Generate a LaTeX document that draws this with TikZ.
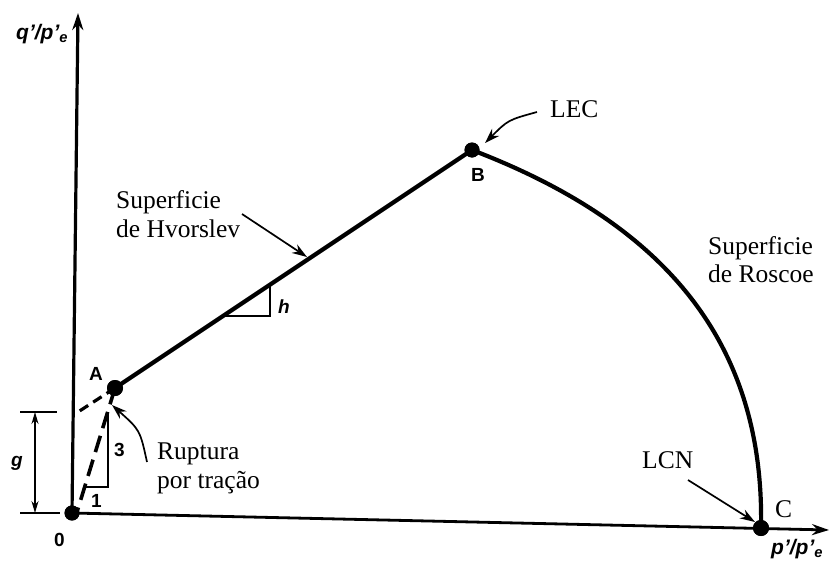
\documentclass[tikz,border=0pt]{standalone}
\usepackage{fontspec}
\setmainfont{Liberation Serif}
\setsansfont{Liberation Sans}
\usetikzlibrary{arrows.meta}

\begin{document}
\begin{tikzpicture}[x=1pt,y=-1pt,
  txtlabel/.style={font=\fontsize{25.5}{29}\selectfont,inner sep=0pt,anchor=base west},
  ptlabel/.style={font=\sffamily\bfseries\fontsize{19}{21}\selectfont,inner sep=0pt,anchor=base west},
  axlabel/.style={font=\sffamily\bfseries\itshape\fontsize{21}{24}\selectfont,inner sep=0pt,anchor=base west},
  dotmark/.style={circle,fill,inner sep=0pt,minimum size=15pt},
  heavy/.style={line width=4.2pt},
  callout/.style={-{Stealth[length=15pt,width=10pt]},line width=1.7pt}]
  \useasboundingbox (0,0) rectangle (829,570);
  % points of the curve
  \node[dotmark] (O) at (72,513) {};
  \node[dotmark,minimum size=16pt] (A) at (115,388) {};
  \node[dotmark] (B) at (472,150) {};
  \node[dotmark,minimum size=16pt] (C) at (761,528) {};
  \coordinate (ytip) at (78,13);
  \coordinate (xtip) at (829,530);
  \coordinate (g0) at (78,412);
  \coordinate (t0) at (77,512);
  % axes
  \draw[line width=3.2pt,-{Stealth[length=17pt,width=11pt]}] (O.center) -- (ytip);
  \draw[line width=2.8pt,-{Stealth[length=17pt,width=11pt]}] (O.center) -- (xtip);
  % tension cut-off
  \draw[line width=3.2pt,dash pattern=on 10pt off 6pt] (A.center) -- (g0);
  \draw[line width=3.6pt,dash pattern=on 17pt off 8pt] (A.center) -- (t0);
  \draw[line width=1.6pt] (85,487) -- (108,487) -- (108,413);
  % Hvorslev and Roscoe
  \draw[heavy] (A.center) -- (B.center);
  \draw[heavy] (B.center) .. controls (650,218) and (765,330) .. (C.center);
  \draw[line width=1.6pt] (225,316) -- (270,316) -- (270,285);
  \node[dotmark] at (O) {};
  \node[dotmark,minimum size=16pt] at (A) {};
  \node[dotmark] at (B) {};
  \node[dotmark,minimum size=16pt] at (C) {};
  % g
  \draw[line width=1.6pt] (20,412) -- (57,412);
  \draw[line width=1.6pt] (20,513) -- (60,513);
  \draw[line width=1.6pt,{Stealth[length=12pt,width=7pt]}-{Stealth[length=12pt,width=7pt]}] (35,412) -- (35,513);
  % labels
  \node[axlabel] (ylab) at (16,39) {q'/p'\textsubscript{e}};
  \node[axlabel] (xlab) at (771,554) {p'/p'\textsubscript{e}};
  \node[ptlabel] (lA) at (89,380) {A};
  \node[ptlabel] (lB) at (471,181) {B};
  \node[ptlabel] (l0) at (54,546) {0};
  \node[ptlabel] (l3) at (114,456) {3};
  \node[ptlabel] (l1) at (91,507) {1};
  \node[ptlabel,font=\sffamily\bfseries\itshape\fontsize{19}{21}\selectfont] (lh) at (278,313) {h};
  \node[ptlabel,font=\sffamily\bfseries\itshape\fontsize{19}{21}\selectfont] (lg) at (11,466) {g};
  \node[txtlabel] (hv1) at (116,208) {Superficie};
  \node[txtlabel] (hv2) at (116,237) {de Hvorslev};
  \node[txtlabel] (rs1) at (708,254) {Superficie};
  \node[txtlabel] (rs2) at (708,282) {de Roscoe};
  \node[txtlabel] (rp1) at (157,459) {Ruptura};
  \node[txtlabel] (rp2) at (157,488) {por tração};
  \node[txtlabel] (lec) at (550,117) {LEC};
  \node[txtlabel] (lcn) at (642,468) {LCN};
  \node[txtlabel] (lC) at (775,517) {C};
  % callouts
  \coordinate (hvT) at (242,214);
  \coordinate (hvH) at (307,257);
  \coordinate (lecT) at (537,112);
  \coordinate (lecH) at (485,143);
  \coordinate (rpT) at (147,462);
  \coordinate (rpH) at (112,405);
  \coordinate (lcnT) at (688,480);
  \coordinate (lcnH) at (755,522);
  \draw[callout] (hvT) -- (hvH);
  \draw[callout] (lecT) .. controls (508,120) .. (lecH);
  \draw[callout] (rpT) .. controls (140,430) .. (rpH);
  \draw[callout] (lcnT) -- (lcnH);
\end{tikzpicture}
\end{document}
